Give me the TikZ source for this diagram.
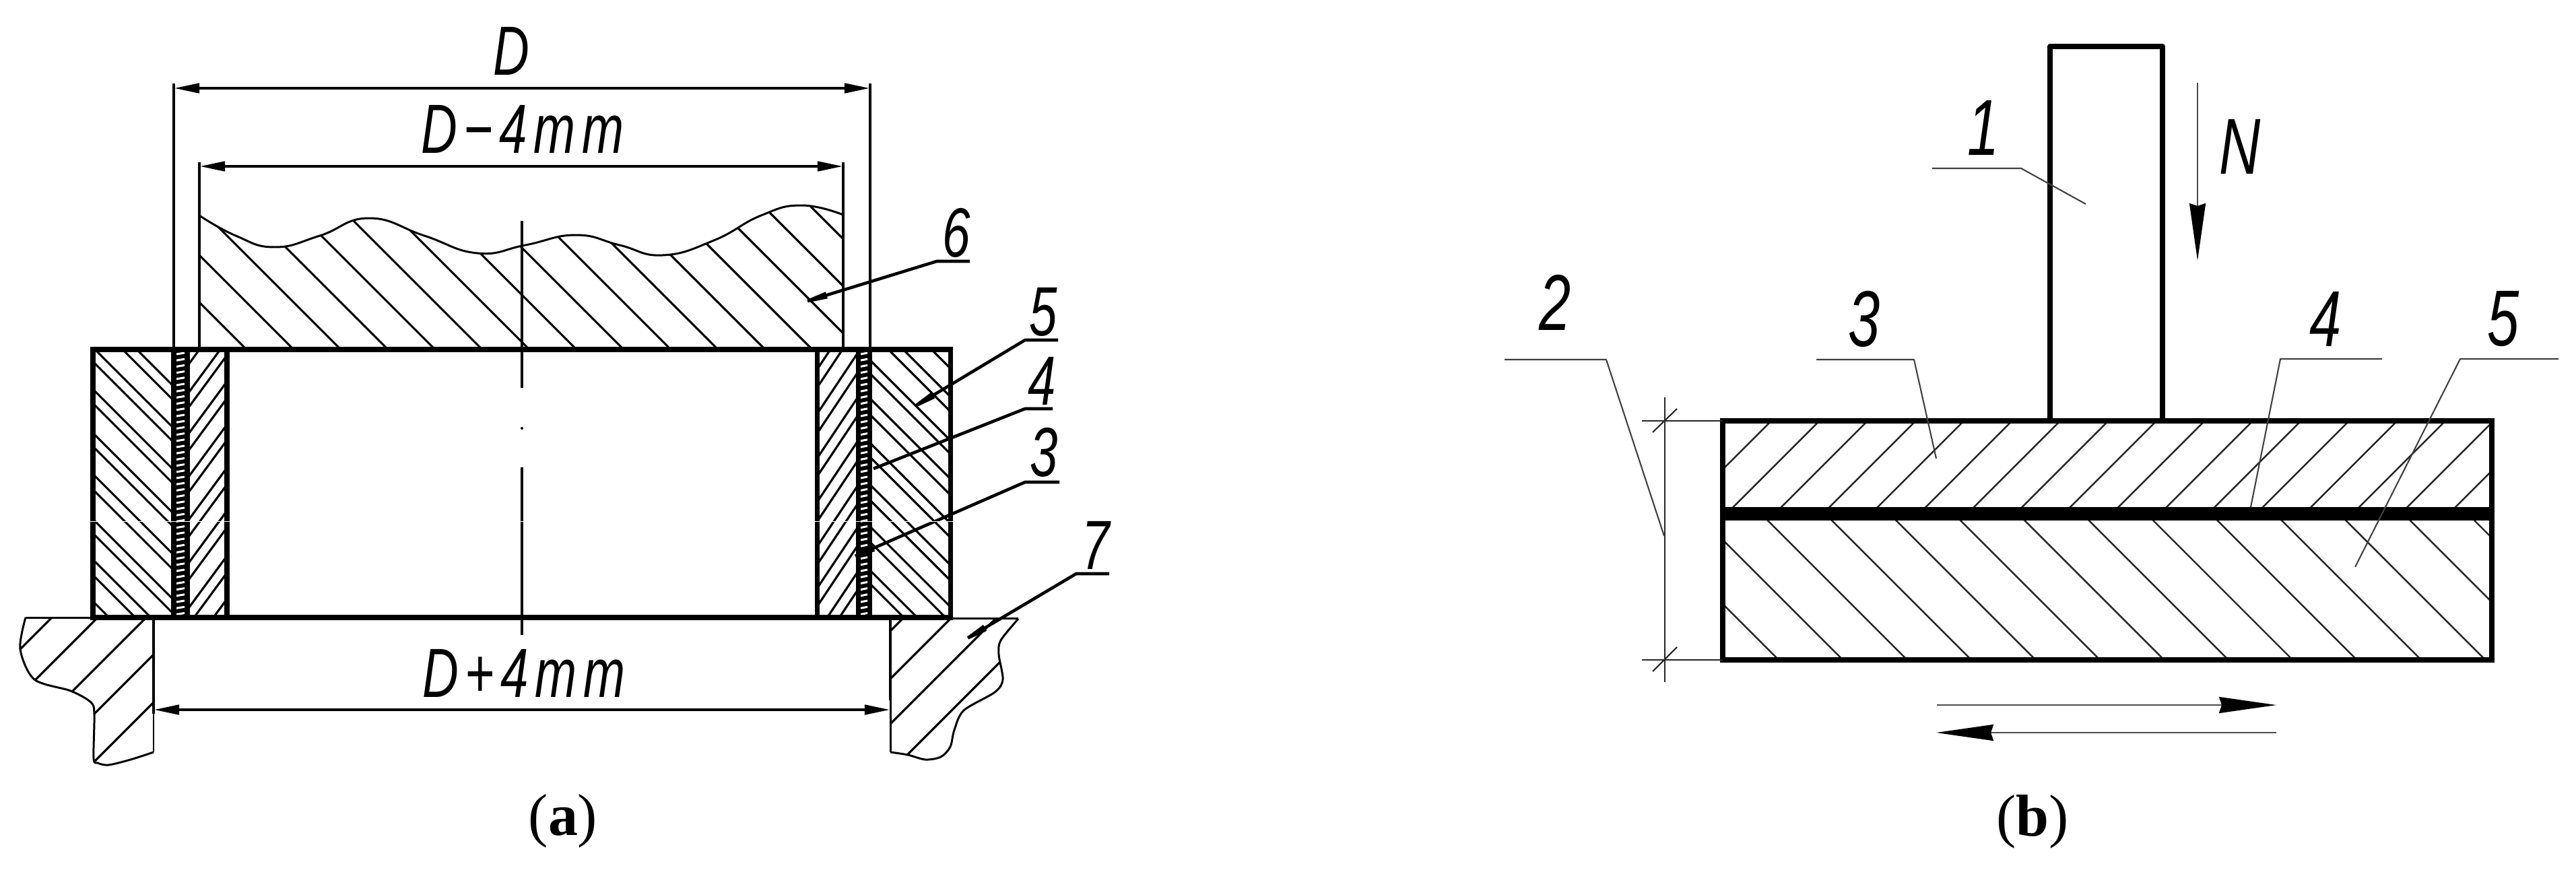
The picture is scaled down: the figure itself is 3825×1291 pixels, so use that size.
\documentclass[tikz,border=0pt]{standalone}
\usepackage{fontspec}
\setmainfont{Liberation Serif}
\newfontfamily\drw[LetterSpace=13]{Liberation Sans}
\usetikzlibrary{arrows.meta}
\tikzset{
  x=0.01cm,y=-0.01cm,
  outline/.style={line width=2pt,line cap=rect,line join=miter},
  outlineB/.style={line width=2.25pt,line cap=rect,line join=miter},
  post/.style={line width=2.3pt,line join=round,line cap=butt},
  edge/.style={line width=1.35pt},
  hatchA/.style={line width=0.9pt},
  hatchB/.style={line width=0.7pt,black!85},
  thinout/.style={line width=0.85pt,line join=round},
  ldA/.style={line width=1.3pt,line join=round,-{Stealth[length=0.6cm,width=0.09cm,inset=0pt]}},
  ldPlain/.style={line width=1.3pt,line join=round},
  ldB/.style={line width=0.6pt,black!75,line join=round},
  dimline/.style={line width=1.35pt,{Stealth[length=0.38cm,width=0.14cm,inset=0pt]}-{Stealth[length=0.38cm,width=0.14cm,inset=0pt]}},
  bigarrow/.style={line width=0.6pt,black!70,-{Stealth[length=0.85cm,width=0.24cm,inset=0.04cm,black]}},
  tick/.style={line width=0.6pt,black!85},
  lblA/.style={font=\fontsize{29.4}{30}\selectfont\drw\itshape,inner sep=0pt,xscale=0.72},
  lblB/.style={font=\fontsize{33.5}{34}\selectfont\drw\itshape,inner sep=0pt,xscale=0.72},
  capt/.style={font=\fontsize{25}{26}\selectfont,inner sep=0pt,anchor=base},
}
\begin{document}
\begin{tikzpicture}
\useasboundingbox (0,0) rectangle (3825,1291);
\fill[white] (0,0) rectangle (3825,1291);

% ---------- (a) piece 6 ----------
\begin{scope}
\clip plot[smooth,tension=.8] coordinates {(296,320) (350,350) (408,367) (475,350) (548,324) (630,350) (709,376) (780,364) (855,349) (920,364) (984,379) (1060,357) (1130,320) (1190,305) (1252,319)} -- (1252,519) -- (296,519) -- cycle;
\foreach \c in {366,436,...,1430}
  \draw[hatchA] ({\c-400},{519-400}) -- ({\c+10},{519+10});
\end{scope}
\draw[thinout] plot[smooth,tension=.8] coordinates {(296,320) (350,350) (408,367) (475,350) (548,324) (630,350) (709,376) (780,364) (855,349) (920,364) (984,379) (1060,357) (1130,320) (1190,305) (1252,319)};

% ---------- (a) ring hatching ----------
\begin{scope}
\clip (138,519) rectangle (254,917);
\foreach \c in {458,479,520,541,582,603,647,667,708,731,775,796,835,858,897}
  \draw[hatchA] (130,{\c-12}) -- (260,{\c+118});
\end{scope}
\begin{scope}
\clip (282,519) rectangle (337,917);
\foreach \c in {469,511,533,572,597,636,659,700,725,764,789,831,856,895,920}
  \draw[hatchA] (275,{\c+58*1.36}) -- (340,{\c-7*1.36});
\end{scope}
\begin{scope}
\clip (1213,519) rectangle (1271,917);
\foreach \c in {543,570,609,638,675,702,740,769,806,833,868,895,934,961}
  \draw[hatchA] (1210,{\c+7*1.5}) -- (1275,{\c-58*1.5});
\end{scope}
\begin{scope}
\clip (1295,519) rectangle (1411,917);
\foreach \c in {543,585,607,650,670,707,731,773,794,835,858,897,920,962,982}
  \draw[hatchA] (1290,{\c-117}) -- (1415,{\c+8});
\end{scope}

% ---------- (a) black strips with white dashes ----------
\fill[black] (254,519) rectangle (282,917);
\fill[black] (1271,519) rectangle (1295,917);
\foreach \k in {0,...,42}{
  \draw[white,line width=0.85pt] (262,{526+9.2*\k}) -- (274,{524+9.2*\k});
  \draw[white,line width=0.85pt] (1278,{526+9.2*\k}) -- (1288,{524+9.2*\k});
}

% ---------- (a) ring outlines ----------
\draw[outline] (138,917) -- (138,519) -- (1411,519) -- (1411,917) -- cycle;
\draw[outline,line cap=butt] (337,519) -- (337,917);
\draw[outline,line cap=butt] (1213,519) -- (1213,917);

% ---------- (a) centre line ----------
\draw[hatchA] (775,328) -- (775,576);
\fill[black] (775,636) circle (2);
\draw[hatchA] (775,694) -- (775,943);

% ---------- (a) extension lines and dimensions ----------
\coordinate (dL) at (258,131);
\coordinate (dR) at (1292,131);
\coordinate (eL) at (296,247);
\coordinate (eR) at (1252,247);
\coordinate (fL) at (228,1054);
\coordinate (fR) at (1322,1054);
\draw[edge] (258,124) -- (258,519);
\draw[edge] (1292,124) -- (1292,519);
\draw[edge] (296,241) -- (296,519);
\draw[edge] (1252,241) -- (1252,519);
\draw[dimline] (dL) -- (dR);
\draw[dimline] (eL) -- (eR);
\draw[dimline] (fL) -- (fR);
\node[lblA] (tD) at (759,76) {D};
\node[lblA] (tDm) at (776,192) {D−4mm};
\node[lblA] (tDp) at (778,1000) {D+4mm};

% ---------- (a) piece 7 ----------
\begin{scope}
\clip plot[smooth,tension=.5] coordinates {(38,917) (30,964) (51,1009) (105,1026) (135,1043) (140,1061) (139,1126) (145,1133) (161,1136) (194,1128) (228,1117)} -- (228,917) -- cycle;
\foreach \c in {994,1062,1134,1200,1271}
  \draw[hatchA] (0,\c) -- (\c,0);
\end{scope}
\draw[thinout] plot[smooth,tension=.5] coordinates {(38,917) (30,964) (51,1009) (105,1026) (135,1043) (140,1061) (139,1126) (145,1133) (161,1136) (194,1128) (228,1117)};
\draw[thinout] (38,917) -- (138,917);
\draw[edge] (228,917) -- (228,1060);
\draw[thinout] (228,1060) -- (228,1117);
\begin{scope}
\clip plot[smooth,tension=.5] coordinates {(1512,919) (1486,951) (1483,972) (1489,1009) (1477,1028) (1431,1055) (1417,1084) (1411,1109) (1397,1124) (1374,1128) (1348,1121) (1322,1117)} -- (1322,917) -- cycle;
\foreach \c in {2259,2330,2397,2468}
  \draw[hatchA] (1200,{\c-1200}) -- (1600,{\c-1600});
\end{scope}
\draw[thinout] plot[smooth,tension=.5] coordinates {(1512,919) (1486,951) (1483,972) (1489,1009) (1477,1028) (1431,1055) (1417,1084) (1411,1109) (1397,1124) (1374,1128) (1348,1121) (1322,1117)};
\draw[thinout] (1411,918) -- (1512,918);
\draw[edge] (1322,917) -- (1322,1040);
\draw[thinout] (1322,1040) -- (1322,1117);

% ---------- (a) labels and leaders ----------
\node[lblA] (n6) at (1420,346) {6};
\node[lblA] (n5) at (1549,463) {5};
\node[lblA] (n4) at (1547,566) {4};
\node[lblA] (n3) at (1550,672) {3};
\node[lblA] (n7) at (1627,810) {7};
\coordinate (a6) at (1440,388); \coordinate (b6) at (1391,388); \coordinate (c6) at (1170,456);
\coordinate (a5) at (1571,505); \coordinate (b5) at (1522,505); \coordinate (c5) at (1334,618);
\coordinate (a4) at (1563,607); \coordinate (b4) at (1522,607); \coordinate (c4) at (1297,696);
\coordinate (a3) at (1573,716); \coordinate (b3) at (1522,716); \coordinate (c3) at (1242,838);
\coordinate (a7) at (1647,852); \coordinate (b7) at (1598,852); \coordinate (c7) at (1411,963);
\draw[ldA] (a6) -- (b6) -- (c6);
\draw[ldA] (a5) -- (b5) -- (c5);
\draw[ldPlain] (a4) -- (b4) -- (c4);
\draw[ldA] (a3) -- (b3) -- (c3);
\draw[ldA] (a7) -- (b7) -- (c7);

% scan seam
\draw[white,line width=0.25pt] (130,774) -- (1420,774);

% ---------- (b) hatching ----------
\begin{scope}
\clip (2558,625) rectangle (3700,753);
\foreach \k in {0,...,16}
  \draw[hatchB] ({2625+71.5*\k+30},600) -- ({2625+71.5*\k-170},800);
\end{scope}
\begin{scope}
\clip (2558,773) rectangle (3700,980);
\foreach \k in {0,...,13}
  \draw[hatchB] ({1661+95.4*\k+750},750) -- ({1661+95.4*\k+1000},1000);
\end{scope}

% ---------- (b) outlines ----------
\draw[outlineB] (2558,625) rectangle (3700,980);
\fill[black] (2558,753) rectangle (3700,773);
\draw[post] (3044,625) -- (3044,69) -- (3211,69) -- (3211,625);

% ---------- (b) dimension ----------
\draw[tick] (2472,590) -- (2472,1013);
\draw[tick] (2438,625) -- (2558,625);
\draw[tick] (2438,980) -- (2558,980);
\draw[tick] (2454,642) -- (2490,607);
\draw[tick] (2454,997) -- (2490,961);

% ---------- (b) arrows ----------
\coordinate (nA) at (3263,123); \coordinate (nB) at (3263,387);
\coordinate (uA) at (2876,1047); \coordinate (uB) at (3380,1047);
\coordinate (lA) at (3380,1088); \coordinate (lB) at (2875,1088);
\draw[bigarrow] (nA) -- (nB);
\draw[bigarrow] (uA) -- (uB);
\draw[bigarrow] (lA) -- (lB);

% ---------- (b) labels and leaders ----------
\node[lblB] (mN) at (3326,218) {N};
\node[lblB] (m1) at (2945,190) {1};
\node[lblB] (m2) at (2309,449) {2};
\node[lblB] (m3) at (2768,474) {3};
\node[lblB] (m4) at (3453,474) {4};
\node[lblB] (m5) at (3717,474) {5};
\coordinate (p1) at (2869,250); \coordinate (q1) at (3001,250); \coordinate (r1) at (3097,303);
\coordinate (p2) at (2234,534); \coordinate (q2) at (2385,534); \coordinate (r2) at (2471,796);
\coordinate (p3) at (2697,534); \coordinate (q3) at (2842,534); \coordinate (r3) at (2875,681);
\coordinate (p4) at (3537,533); \coordinate (q4) at (3386,533); \coordinate (r4) at (3342,753);
\coordinate (p5) at (3799,533); \coordinate (q5) at (3653,533); \coordinate (r5) at (3497,842);
\draw[ldB] (p1) -- (q1) -- (r1);
\draw[ldB] (p2) -- (q2) -- (r2);
\draw[ldB] (p3) -- (q3) -- (r3);
\draw[ldB] (p4) -- (q4) -- (r4);
\draw[ldB] (p5) -- (q5) -- (r5);

% ---------- captions ----------
\node[capt] (capa) at (836,1240) {(\textbf{a})};
\node[capt] (capb) at (3018,1241) {(\textbf{b})};
\end{tikzpicture}
\end{document}
